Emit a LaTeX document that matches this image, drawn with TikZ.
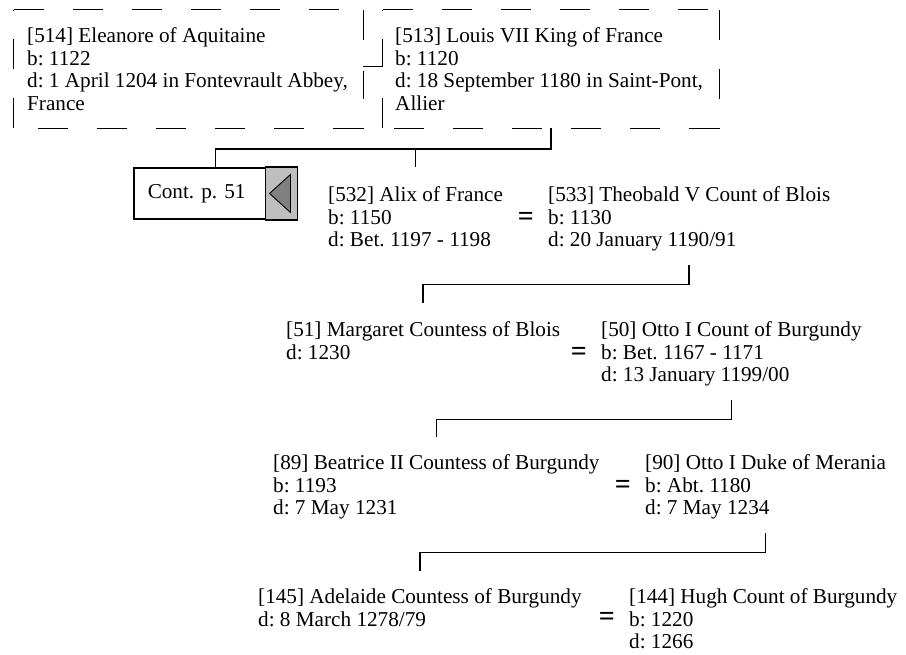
\documentclass[tikz,border=0pt]{standalone}
\usepackage{fontspec}
\setmainfont{Liberation Serif}
\usetikzlibrary{calc}
\frenchspacing

\begin{document}
\begin{tikzpicture}[x=1pt,y=-1pt,
  card/.style={inner sep=0pt,minimum height=118pt},
  cardline/.style={draw=black,line width=1pt,dash pattern=on 30pt off 29pt},
  person/.style={anchor=north west,inner sep=0pt,align=left,
    font=\fontsize{21.2}{22.5}\selectfont},
  wed/.style={anchor=east,inner sep=0pt,font=\fontsize{28}{28}\selectfont\bfseries},
  wedline/.style={draw=black,line width=0.8pt,double,double distance=3.4pt},
  kin/.style={draw=black,line width=1.5pt,shorten <=14pt,shorten >=18pt},
  contbox/.style={draw=black,line width=1.5pt,anchor=west,minimum width=163pt,
    minimum height=51pt,inner xsep=14pt,text width=135pt,align=left,
    font=\fontsize{21.2}{22.5}\selectfont},
  flag/.style={fill=black!25,draw=black,line width=1.8pt}]
\useasboundingbox (0,0) rectangle (906,655);
% first couple in dashed cards, each side dashed from its own corner
\node[card,minimum width=349pt] (b514) at (188.5,69) {};
\node[card,minimum width=336pt] (b513) at (551,69) {};
\foreach \b in {b514,b513}
  \draw[cardline] (\b.north west) -- (\b.north east) (\b.north east) -- (\b.south east)
    (\b.south east) -- (\b.south west) (\b.south west) -- (\b.north west);
\node[person] (p514) at (27,27.5)
  {[514] Eleanore of Aquitaine\\b: 1122\\d: 1 April 1204 in Fontevrault Abbey,\\France};
\node[person] (p513) at (395,27.5)
  {[513] Louis VII King of France\\b: 1120\\d: 18 September 1180 in Saint-Pont,\\Allier};
\draw[wedline] (b514.east) -- (b513.west);
% continuation box with its flag
\node[contbox] (c51) at (133,193.5) {Cont. p. 51};
\filldraw[flag] (c51.north east) rectangle ($(c51.south east)+(-32,0)$);
\filldraw[fill=black!50,draw=black,line width=0.9pt] ($(c51.east)+(-28,0)$)
  -- ($(c51.east)+(-7,-19)$) -- ($(c51.east)+(-7,19)$) -- cycle;
% the couples, one generation after the other
\node[person] (p532) at (328,186.5) {[532] Alix of France\\b: 1150\\d: Bet. 1197 - 1198};
\node[person] (p533) at (548,186.5) {[533] Theobald V Count of Blois\\b: 1130\\d: 20 January 1190/91};
\node[person] (p51) at (286,321.5) {[51] Margaret Countess of Blois\\d: 1230};
\node[person] (p50) at (601,321.5) {[50] Otto I Count of Burgundy\\b: Bet. 1167 - 1171\\d: 13 January 1199/00};
\node[person] (p89) at (273,454.5) {[89] Beatrice II Countess of Burgundy\\b: 1193\\d: 7 May 1231};
\node[person] (p90) at (645,454.5) {[90] Otto I Duke of Merania\\b: Abt. 1180\\d: 7 May 1234};
\node[person] (p145) at (258,588.5) {[145] Adelaide Countess of Burgundy\\d: 8 March 1278/79};
\node[person] (p144) at (629,588.5) {[144] Hugh Count of Burgundy\\b: 1220\\d: 1266};
\foreach \m in {533,50,90,144}
  \node[wed] (w\m) at ([xshift=-14pt]p\m.west) {=};
% lines of descent
\coordinate (k513) at ([yshift=-21pt]b513.south);
\draw[kin,shorten <=0pt,shorten >=0pt] (b513.south) -- (k513) -| (c51.north);
\draw[kin,shorten <=0pt,shorten >=19pt] (k513) -| (p532.north);
\draw[kin] (p533.south) -- ++(0,33) -| (p51.north);
\draw[kin] (p50.south) -- ++(0,33) -| (p89.north);
\draw[kin] (p90.south) -- ++(0,33) -| (p145.north);
\end{tikzpicture}
\end{document}
